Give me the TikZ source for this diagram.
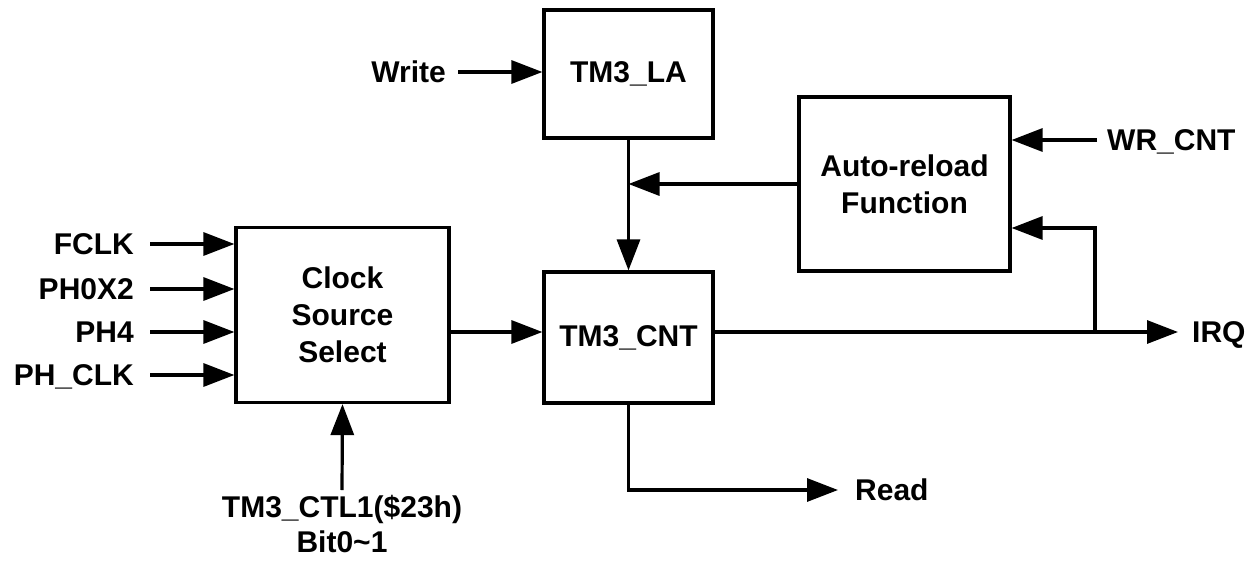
\documentclass[tikz,border=0pt]{standalone}
\usepackage{fontspec}
\setmainfont{Liberation Sans}
\usetikzlibrary{arrows.meta}
\newcommand\dfont{\fontsize{30}{37}\selectfont\bfseries}
\begin{document}
\begin{tikzpicture}[x=1pt,y=-1pt,
  box/.style={draw,line width=3.2pt,inner sep=0pt,align=center,font=\dfont},
  lab/.style={font=\dfont,inner sep=0pt,text height=21.5pt,text depth=0pt},
  arr/.style={line width=3.2pt,-{Triangle[length=31pt,width=23pt]}}]
\useasboundingbox (0,0) rectangle (1251,560);
% boxes
\node[box,minimum width=213pt,minimum height=175pt] (clock) at (342.5,315) {Clock\\Source\\Select};
\node[box,minimum width=169pt,minimum height=128pt] (la) at (628.5,74) {TM3\_LA};
\node[box,minimum width=169pt,minimum height=131pt] (cnt) at (628.5,337.5) {TM3\_CNT};
\node[box,minimum width=211pt,minimum height=174pt] (auto) at (904.5,184) {Auto-reload\\Function};
% labels
\node[lab,anchor=east] (fclk) at (134,244) {FCLK};
\node[lab,anchor=east] (ph0x2) at (134,289) {PH0X2};
\node[lab,anchor=east] (ph4) at (134,332) {PH4};
\node[lab,anchor=east] (phclk) at (134,375) {PH\_CLK};
\node[lab,anchor=east] (write) at (446,72) {Write};
\node[lab,anchor=west] (wr) at (1107,140) {WR\_CNT};
\node[lab,anchor=west] (irq) at (1192,332) {IRQ};
\node[lab,anchor=west] (read) at (855,490) {Read};
\node[font={\fontsize{30}{35}\selectfont\bfseries},align=center,inner sep=0pt,anchor=north] (ctl) at (342,495) {TM3\_CTL1(\$23h)\\Bit0\textasciitilde1};
% coordinates
\path (cnt.west) ++(0,-5.5) coordinate (cin);
\coordinate (fb) at (1095,332);
\coordinate (fbt) at (1095,228);
% connectors
\draw[arr] ([xshift=16pt]fclk.east) -- (clock.west |- fclk.east);
\draw[arr] ([xshift=16pt]ph0x2.east) -- (clock.west |- ph0x2.east);
\draw[arr] ([xshift=16pt]ph4.east) -- (clock.west |- ph4.east);
\draw[arr] ([xshift=16pt]phclk.east) -- (clock.west |- phclk.east);
\draw[arr] ([xshift=12pt]write.east) -- (la.west |- write.east);
\draw[arr] ([xshift=-10pt]wr.west) -- (auto.east |- wr.west);
\draw[arr] ([yshift=5pt]ctl.north) -- (clock.south);
\draw[arr] (clock.east |- cin) -- (cin);
\draw[arr] (cnt.east |- cin) -- ([xshift=-14pt]irq.west);
\draw[arr] (fb) -- (fbt) -- (fbt -| auto.east);
\draw[arr] (la.south) -- (cnt.north);
\draw[arr] (auto.west) -- (la.south |- auto.west);
\draw[arr] (cnt.south) |- ([xshift=-17pt]read.west);
\end{tikzpicture}
\end{document}
